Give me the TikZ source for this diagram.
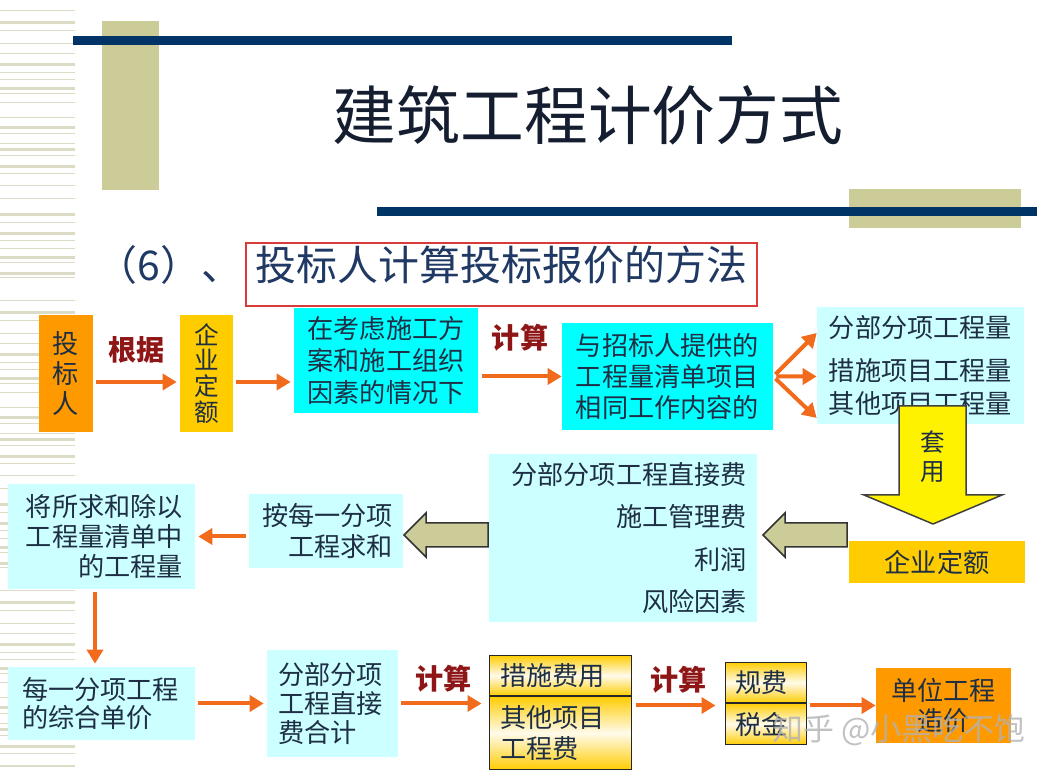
\documentclass[tikz,border=0pt]{standalone}
\usepackage{fontspec}
\setmainfont{Noto Sans CJK SC}
\usepackage{xcolor}
\usepackage{tikz}
\usetikzlibrary{arrows.meta,positioning,calc}
\definecolor{jgorange}{HTML}{FF9900}
\definecolor{jggold}{HTML}{FFCC00}
\definecolor{jgcyan}{HTML}{00FFFF}
\definecolor{jglight}{HTML}{CCFFFF}
\definecolor{jgarrow}{HTML}{F26A1B}
\definecolor{jgred}{HTML}{8E1616}
\definecolor{jgtext}{HTML}{1E2F45}
\definecolor{jgnavy}{HTML}{003366}
\definecolor{jgkhaki}{HTML}{CCCC99}
\definecolor{jgstripe}{HTML}{DCDCC6}
\definecolor{jgframe}{HTML}{D93A3A}
\definecolor{jgtitle}{HTML}{141E30}
\definecolor{jgsub}{HTML}{1F3864}

\begin{document}
\begin{tikzpicture}[x=0.02cm,y=-0.02cm,
  box/.style={inner sep=0pt,text=jgtext,align=center,font=\fontsize{14.9}{17.6}\selectfont},
  stack/.style={box,align=left,draw=black!85,line width=0.02cm,top color=jggold,bottom color=jggold,middle color=jggold!8},
  arrow/.style={-{Triangle[length=0.28cm,width=0.32cm]},line width=0.08cm,draw=jgarrow,shorten <=0.06cm,shorten >=0.06cm},
  lbl/.style={font=\bfseries\fontsize{16}{18}\selectfont,text=jgred,inner sep=0pt},
  blockarrow/.style={fill=jgkhaki,draw=black!80,line width=0.03cm},
  heading/.style={text=jgsub,inner sep=0pt,text height=0.86em,text depth=0.14em,font=\fontsize{23.3}{26}\selectfont}
]
\fill[white] (0,0) rectangle (1052,776);
\useasboundingbox (0,0) rectangle (1052,776);
\foreach \o in {0,290,580}
  \foreach \s/\t in {10/0,21/1,30/0,43/0,53/0,63/1,72/0,79/0,87/1,93/0,102/0,117/0,126/1,133/0,143/0,148/1,155/0,165/1,173/0,185/0,198/0,213/1,222/0,232/1,240/0,248/0,256/1,262/0,272/1,277/0}
    \fill[jgstripe] (0,\o+\s) rectangle (75,\o+\s+1.5+2*\t);
\fill[jgkhaki] (102,21) rectangle (159,190);
\fill[jgkhaki] (849,189) rectangle (1021,228);
\fill[jgnavy] (73,36) rectangle (732,45);
\fill[jgnavy] (377,207) rectangle (1037,216);

\node[text=jgtitle,inner sep=0pt,font=\fontsize{36.3}{40}\selectfont] (title) at (588,115) {建筑工程计价方式};
\node[heading,draw=jgframe,line width=0.05cm,minimum width=10.22cm,minimum height=1.26cm] (method) at (501.5,274.5) {投标人计算投标报价的方法};
\node[heading,left=0.04cm of method] (num) {（6）、};

\node[box,fill=jgorange,minimum width=1.08cm,minimum height=2.34cm,text width=1.08cm,font=\fontsize{14.9}{17}\selectfont] (bidder) at (66,373.5) {投\\标\\人};
\node[box,fill=jggold,minimum width=1.06cm,minimum height=2.34cm,text width=1.06cm,font=\fontsize{14}{14.7}\selectfont] (quota) at (206.5,373.5) {企\\业\\定\\额};
\node[box,fill=jgcyan,minimum width=3.68cm,minimum height=2.10cm,font=\fontsize{14.9}{18.4}\selectfont] (plan) at (386,360.5) {在考虑施工方\\案和施工组织\\因素的情况下};
\node[box,fill=jgcyan,minimum width=4.22cm,minimum height=2.14cm] (scope) at (667.5,376.5) {与招标人提供的\\工程量清单项目\\相同工作内容的};
\node[box,fill=jglight,minimum width=4.14cm,minimum height=2.34cm,font=\fontsize{14.9}{18.7}\selectfont] (qty) at (920.5,365.5) {分部分项工程量\\[0.2cm]措施项目工程量\\其他项目工程量};

\draw[arrow] ([yshift=-0.17cm]bidder.east) -- node[lbl,yshift=0.64cm]{根据} ([yshift=-0.17cm]quota.west);
\draw[arrow] ([yshift=-0.17cm]quota.east) -- ([yshift=-0.17cm]quota.east -| plan.west);
\draw[arrow,shorten <=0.08cm,shorten >=0pt] (plan.east |- scope.west) -- node[lbl,yshift=0.77cm]{计算} (scope.west);
\draw[arrow,shorten >=0pt] (scope.east) -- ([yshift=0.65cm]qty.west);
\draw[arrow,shorten >=0pt] (scope.east) -- ([yshift=-0.22cm]qty.west);
\draw[arrow,shorten >=0pt] (scope.east) -- ([yshift=-1.05cm]qty.west);

\draw[fill=yellow,draw=black!75,line width=0.03cm] (899,406) -- (966,406) -- (966,495) -- (1002,495) -- (933,524) -- (864,495) -- (899,495) -- cycle;
\node[box,text width=0.6cm,font=\fontsize{14}{16.5}\selectfont] (apply) at (933,457) {套\\用};
\node[box,fill=jggold,minimum width=3.52cm,minimum height=0.84cm] (quota2) at (937,562) {企业定额};

\node[box,fill=jglight,minimum height=3.36cm,text width=4.96cm,inner xsep=0.2cm,align=right,font=\fontsize{14.9}{24}\selectfont] (costs) at (623,538) {分部分项工程直接费\\施工管理费\\利润\\风险因素};
\node[box,fill=jglight,minimum height=1.48cm,text width=2.68cm,inner xsep=0.2cm,align=right] (sumup) at (326,531) {按每一分项\\工程求和};
\node[box,fill=jglight,minimum height=2.10cm,text width=3.26cm,inner xsep=0.24cm,align=right,font=\fontsize{14.9}{17.3}\selectfont] (divide) at (101.5,536.5) {将所求和除以\\工程量清单中\\的工程量};

\draw[blockarrow] (847,523) -- (785,523) -- (785,513) -- (763,535) -- (785,557) -- (785,547) -- (847,547) -- cycle;
\draw[blockarrow] (488,523) -- (426,523) -- (426,513) -- (404,535) -- (426,557) -- (426,547) -- (488,547) -- cycle;
\draw[arrow] (sumup.west |- divide.east) -- (divide.east);

\node[box,fill=jglight,minimum height=1.46cm,text width=3.18cm,inner xsep=0.28cm,align=left,font=\fontsize{14.9}{16.4}\selectfont] (unit) at (101.5,703.5) {每一分项工程\\的综合单价};
\node[box,fill=jglight,minimum height=2.14cm,text width=2.18cm,inner xsep=0.22cm,align=left,font=\fontsize{14.9}{16.7}\selectfont] (direct) at (332.5,703.5) {分部分项\\工程直接\\费合计};
\node[stack,minimum height=0.82cm,text width=2.42cm,inner xsep=0.22cm] (measure) at (560.5,675.5) {措施费用};
\node[stack,minimum height=1.48cm,text width=2.42cm,inner xsep=0.22cm] (other) at (560.5,733) {其他项目\\工程费};
\node[stack,minimum height=0.82cm,text width=1.24cm,inner xsep=0.2cm] (fees) at (766,682.5) {规费};
\node[stack,minimum height=0.84cm,text width=1.24cm,inner xsep=0.2cm] (tax) at (766,724) {税金};
\node[box,fill=jgorange,minimum width=2.70cm,minimum height=1.50cm,font=\fontsize{14.9}{17}\selectfont] (total) at (943.5,705.5) {单位工程\\造价};

\draw[arrow] ([xshift=-0.13cm]divide.south) -- ([xshift=-0.13cm]divide.south |- unit.north);
\draw[arrow] (unit.east) -- (direct.west);
\draw[arrow,shorten >=0.14cm] (direct.east) -- node[lbl,yshift=0.5cm]{计算} (direct.east -| measure.west);
\draw[arrow,shorten <=0.08cm,shorten >=0.18cm] (other.east |- total.west) -- node[lbl,yshift=0.52cm]{计算} (fees.west |- total.west);
\draw[arrow,shorten >=0pt] (fees.east |- total.west) -- (total.west);

\node[inner sep=0pt,text=black!30,text opacity=0.8,font=\fontsize{17.6}{20}\selectfont] (mark) at (899,730) {知乎 @小黑吃不饱};
\end{tikzpicture}
\end{document}
